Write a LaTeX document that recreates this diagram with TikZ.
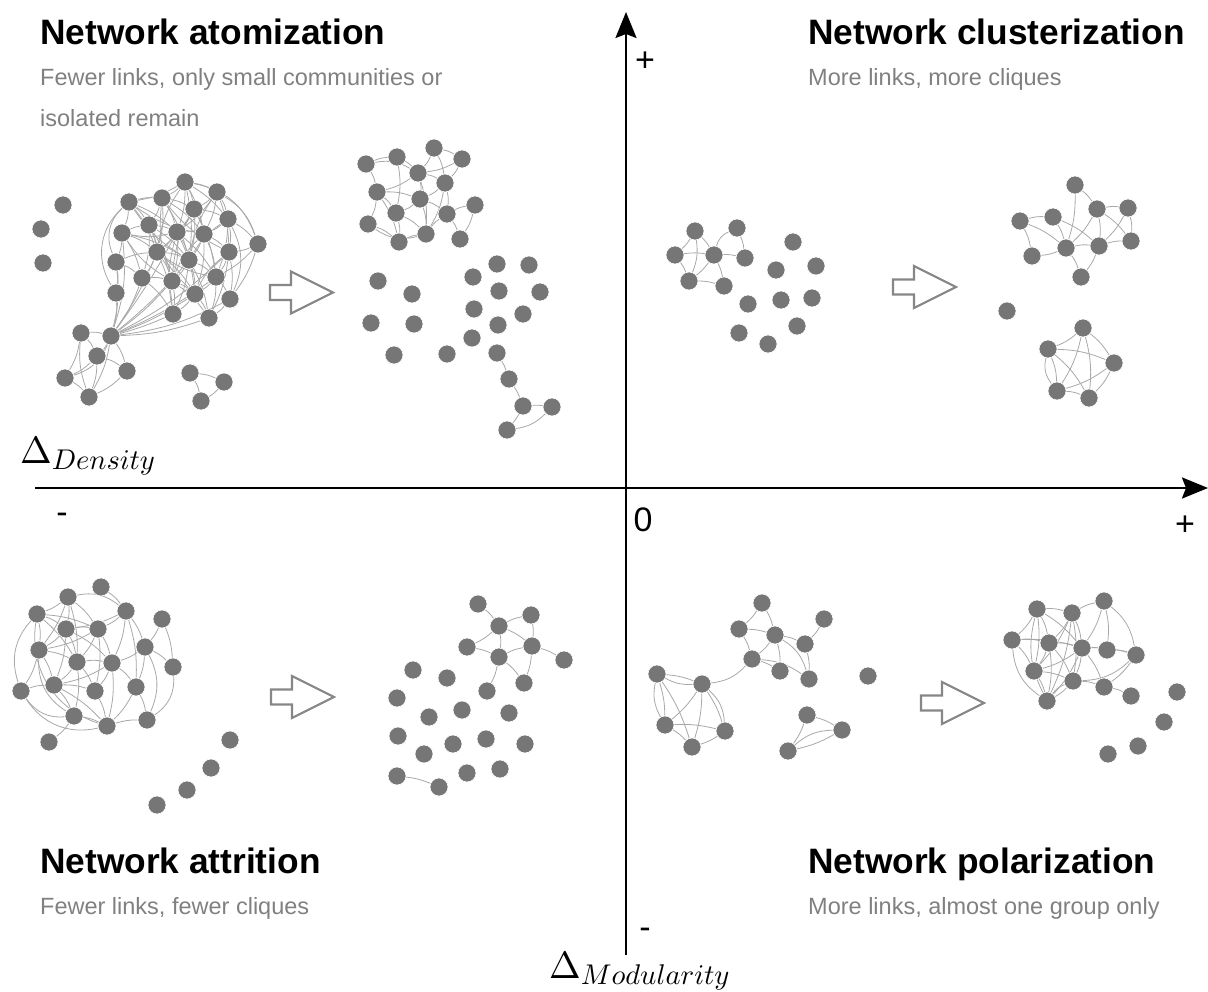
\documentclass[tikz,border=0pt]{standalone}
\usepackage{fontspec}
\setmainfont{Liberation Sans}
\usetikzlibrary{backgrounds,arrows.meta}
\definecolor{nodegray}{RGB}{118,118,118}
\definecolor{edgegray}{RGB}{168,168,168}
\definecolor{txtgray}{RGB}{128,128,128}
\definecolor{arrgray}{RGB}{135,135,135}
\begin{document}
\begin{tikzpicture}[x=1pt,y=-1pt,
 nd/.style={circle,fill=nodegray,draw=white,line width=0.6pt,minimum size=18pt,inner sep=0pt},
 lk/.style={draw=edgegray,line width=0.8pt},
 ttl/.style={anchor=base west,font=\fontsize{35.3}{40}\selectfont\bfseries,inner sep=0pt},
 sub/.style={anchor=base west,font=\fontsize{23.5}{28}\selectfont,text=txtgray,inner sep=0pt},
 axl/.style={font=\fontsize{34}{38}\selectfont,inner sep=0pt},
 mathl/.style={anchor=base west,inner sep=0pt},
 bigarrow/.style={draw=arrgray,line width=2.2pt,fill=white,line join=miter},
 axis/.style={line width=2.6pt,-{Stealth[length=26pt,width=21pt,inset=4pt]}}]

\useasboundingbox (0,0) rectangle (1208,992);

% ---------------- axes ----------------
\coordinate (xl) at (35,488); \coordinate (xr) at (1208,488);
\coordinate (yb) at (626,955); \coordinate (yt) at (626,12);
\draw[axis] (xl) -- (xr);
\draw[axis,line width=2.3pt] (yb) -- (yt);
\node[axl] (ptop) at (645,62) {+};
\node[axl] (zero) at (643,520) {0};
\node[axl] (pright) at (1185,526) {+};
\node[axl] (mleft) at (62,518) {-};
\node[axl] (mbottom) at (645,933) {-};
\node[mathl] (dden) at (20,463) {\scalebox{3.8}{$\Delta$}\raisebox{-6pt}{\scalebox{2.85}{$Density$}}};
\node[mathl] (dmod) at (549,978) {\scalebox{3.8}{$\Delta$}\raisebox{-6pt}{\scalebox{2.85}{$Modularity$}}};

% ---------------- texts ----------------
\node[ttl] (t1) at (40,45) {Network atomization};
\node[sub] (s1a) at (40,86) {Fewer links, only small communities or};
\node[sub] (s1b) at (40,127) {isolated remain};
\node[ttl] (t2) at (808,45) {Network clusterization};
\node[sub] (s2) at (808,86) {More links, more cliques};
\node[ttl] (t3) at (40,873) {Network attrition};
\node[sub] (s3) at (40,914) {Fewer links, fewer cliques};
\node[ttl] (t4) at (808,873) {Network polarization};
\node[sub] (s4) at (808,914) {More links, almost one group only};

% ---------------- hollow arrows ----------------
\foreach \ax/\ay in {270/292.5, 893/287, 271/697, 921/703}
  \draw[bigarrow,shift={(\ax,\ay)}] (0,-7.5) -- (21,-7.5) -- (21,-21) -- (63,0) -- (21,21) -- (21,7.5) -- (0,7.5) -- cycle;

% ---------------- nodes ----------------
\foreach \n/\x/\y in {A1/185/182, A2/217/192, A3/129/202, A4/162/198, A5/194/209, A6/228/219, A7/122/233, A8/149/225, A9/177/232, A10/204/234, A11/258/244, A12/157/252, A13/189/260, A14/229/252, A15/116/262, A16/142/278, A17/172/281, A18/216/277, A19/116/293, A20/195/294, A21/230/299, A22/173/314, A23/209/318,
 Z1/63/205, Z2/41/229, Z3/43/263,
 B1/81/333, B2/111/336, B3/97/356, B4/127/371, B5/65/378, B6/89/397,
 C1/190/373, C2/224/382, C3/201/401,
 D1/366/164, D2/397/157, D3/434/148, D4/462/159, D5/418/173, D6/445/183, D7/377/192, D8/420/199, D9/396/213, D10/447/214, D11/475/205, D12/368/224, D13/399/242, D14/426/234, D15/460/239,
 P1/378/281, P2/412/294, P3/371/323, P4/414/324, P5/394/355, P6/447/354, P7/473/277, P8/497/264, P9/529/265, P10/499/291, P11/540/292, P12/474/309, P13/523/314, P14/498/325, P15/472/338,
 Q1/497/353, Q2/509/379, Q3/523/406, Q4/552/407, Q5/507/430,
 E1/695/231, E2/737/228, E3/675/255, E4/714/255, E5/745/258, E6/793/242, E7/776/270, E8/816/266, E9/689/281, E10/724/286, E11/748/304, E12/781/300, E13/812/298, E14/739/333, E15/797/326, E16/768/344,
 F1/1075/185, F2/1020/221, F3/1053/217, F4/1097/209, F5/1128/208, F6/1066/248, F7/1099/246, F8/1131/241, F9/1032/256, F10/1081/277, F11/1007/311,
 G1/1083/328, G2/1048/349, G3/1114/363, G4/1057/391, G5/1089/398,
 H1/101/587, H2/68/597, H3/37/614, H4/126/611, H5/162/619, H6/66/629, H7/98/629, H8/39/650, H9/145/647, H10/77/662, H11/112/663, H12/173/667, H13/21/691, H14/54/685, H15/95/691, H16/136/687, H17/74/716, H18/107/726, H19/147/720, H20/49/742,
 H21/230/740, H22/211/768, H23/187/790, H24/157/805,
 I1/478/604, I2/531/615, I3/499/626, I4/467/647, I5/532/646, I6/499/657, I7/564/660, I8/413/670, I9/447/678, I10/487/691, I11/524/683, I12/397/698, I13/462/710, I14/429/717, I15/509/713, I16/398/736, I17/453/744, I18/486/739, I19/525/744, I20/424/754, I21/397/776, I22/467/773, I23/500/769, I24/439/787,
 J1/762/603, J2/739/629, J3/775/635, J4/824/619, J5/805/644, J6/752/659, J7/780/671, J8/809/679, J9/868/676,
 K1/657/674, K2/702/684, K3/665/725, K4/725/731, K5/692/747,
 L1/807/715, L2/842/730, L3/788/751,
 M1/1104/601, M2/1037/609, M3/1072/613, M4/1012/640, M5/1049/643, M6/1082/648, M7/1107/650, M8/1136/655, M9/1034/671, M10/1073/681, M11/1104/687, M12/1131/696, M13/1047/701,
 M14/1177/692, M15/1164/722, M16/1138/746, M17/1108/754}
  \node[nd] (\n) at (\x,\y) {};

% ---------------- links ----------------
\begin{pgfonlayer}{background}
% atomization, before
\foreach \a/\b in {A1/A2,A1/A4,A1/A5,A1/A3,A1/A9,A1/A6,A1/A10,A1/A13,A2/A5,A2/A6,A2/A10,A2/A14,A2/A9,
 A3/A4,A3/A7,A3/A8,A3/A9,A3/A12,A4/A5,A4/A8,A4/A9,A4/A12,A4/A13,A4/A10,
 A5/A9,A5/A10,A5/A13,A5/A6,A5/A12,A5/A18,A6/A10,A6/A11,A6/A14,A6/A18,
 A7/A8,A7/A12,A7/A15,A7/A16,A7/A13,A8/A9,A8/A12,A8/A16,A8/A17,A8/A13,
 A9/A10,A9/A12,A9/A13,A9/A17,A9/A18,A9/A20,A10/A13,A10/A14,A10/A18,A10/A20,
 A11/A14,A11/A18,A11/A21,A12/A13,A12/A16,A12/A17,A12/A20,A12/A22,
 A13/A17,A13/A18,A13/A20,A13/A22,A13/A23,A14/A18,A14/A21,A14/A23,
 A15/A16,A15/A19,A15/A12,A16/A17,A16/A22,A17/A20,A17/A22,A17/A23,
 A18/A21,A18/A23,A18/A20,A20/A23,A20/A22,A21/A23}
  \draw[lk] (\a) to[bend left=9] (\b);
\foreach \a/\b in {A1/A12,A2/A13,A3/A13,A4/A17,A5/A17,A6/A13,A7/A17,A8/A20,A9/A22,A10/A17,A14/A20,A12/A18,A4/A14,A3/A10,A7/A9}
  \draw[lk] (\a) to[bend right=12] (\b);
\draw[lk] (A3) to[bend right=35] (A15);
\draw[lk] (A3) to[bend right=40] (A19);
\draw[lk] (A1) to[bend left=30] (A11);
\draw[lk] (A2) to[bend left=20] (A11);
\draw[lk] (A6) to[bend left=25] (A21);
\foreach \b/\bb in {A15/10,A16/8,A17/6,A19/10,A22/4,A20/6,A23/8,A12/6,A13/5,A9/4,A18/6,A21/10,A7/12,A14/8}
  \draw[lk] (B2) to[bend right=\bb] (\b);
\foreach \a/\b in {B1/B2,B1/B3,B1/B5,B2/B3,B2/B4,B3/B5,B3/B6,B3/B4,B5/B6,B4/B6,B2/B6,C1/C2,C1/C3,C2/C3}
  \draw[lk] (\a) to[bend left=10] (\b);
\draw[lk] (B1) to[bend right=12] (B6);
\draw[lk] (B2) to[bend left=25] (B5);
% atomization, after
\foreach \a/\b in {D1/D2,D1/D7,D2/D5,D2/D9,D3/D5,D3/D4,D3/D6,D4/D6,D4/D5,D5/D6,D5/D7,D5/D8,D5/D14,D6/D8,D6/D10,D6/D14,
 D7/D8,D7/D9,D7/D12,D7/D13,D8/D9,D8/D14,D8/D10,D9/D13,D9/D14,D12/D13,D13/D14,D14/D10,D10/D11,D10/D15,D11/D15}
  \draw[lk] (\a) to[bend left=10] (\b);
\draw[lk] (D1) to[bend left=20] (D5);
\draw[lk] (D12) to[bend right=25] (D14);
\foreach \a/\b in {Q1/Q2,Q2/Q3,Q3/Q4,Q3/Q5}
  \draw[lk] (\a) to[bend left=6] (\b);
\draw[lk] (Q5) to[bend right=18] (Q4);
% clusterization, before
\foreach \a/\b in {E1/E3,E1/E4,E3/E4,E3/E9,E4/E9,E2/E5,E4/E5,E4/E10,E9/E10}
  \draw[lk] (\a) to[bend left=8] (\b);
\draw[lk] (E1) to[bend left=15] (E9);
\draw[lk] (E4) to[bend left=25] (E2);
% clusterization, after
\foreach \a/\b in {F1/F4,F1/F6,F2/F3,F2/F9,F2/F6,F3/F6,F3/F7,F4/F5,F4/F6,F4/F7,F5/F8,F5/F7,F6/F7,F7/F8,F6/F9,F6/F10,F7/F10,F4/F8}
  \draw[lk] (\a) to[bend left=9] (\b);
\foreach \a/\b in {G1/G2,G1/G3,G1/G4,G1/G5,G2/G3,G2/G4,G2/G5,G3/G4,G3/G5,G4/G5}
  \draw[lk] (\a) to[bend left=10] (\b);
\draw[lk] (G2) to[bend right=25] (G4);
% attrition, before
\foreach \a/\b in {H1/H4,H2/H3,H2/H6,H2/H7,H2/H8,H2/H10,H3/H6,H3/H8,H3/H7,H3/H10,H4/H7,H4/H9,H4/H6,H4/H11,H5/H9,H5/H12,
 H6/H7,H6/H8,H6/H10,H6/H11,H6/H14,H7/H10,H7/H11,H7/H8,H7/H15,H8/H10,H8/H14,H8/H13,H9/H12,H9/H11,H9/H16,
 H10/H11,H10/H14,H10/H15,H10/H17,H11/H15,H11/H16,H11/H14,H13/H14,H14/H15,H14/H17,H14/H18,H15/H18,H16/H18,
 H16/H19,H17/H18,H17/H20,H18/H19,H11/H18,H4/H16}
  \draw[lk] (\a) to[bend left=9] (\b);
\draw[lk] (H2) to[bend left=25] (H4);
\draw[lk] (H3) to[bend right=30] (H13);
\draw[lk] (H9) to[bend left=25] (H19);
\draw[lk] (H13) to[bend right=30] (H17);
\draw[lk] (H13) to[bend right=35] (H18);
\draw[lk] (H12) to[bend left=30] (H19);
\draw[lk] (H3) to[bend right=40] (H18);
\draw[lk] (H8) to[bend right=30] (H17);
% attrition, after
\foreach \a/\b in {I1/I3,I3/I2,I3/I4,I3/I6,I3/I5,I2/I5,I4/I6,I6/I5,I5/I7,I5/I11,I6/I11,I6/I10,I21/I24}
  \draw[lk] (\a) to[bend left=8] (\b);
% polarization, before
\foreach \a/\b in {J1/J2,J1/J3,J2/J3,J2/J6,J3/J6,J3/J5,J3/J7,J4/J5,J5/J8,J6/J7,
 K1/K2,K1/K3,K1/K5,K2/K3,K2/K4,K2/K5,K3/K4,K3/K5,K4/K5,L1/L2,L1/L3,L2/L3}
  \draw[lk] (\a) to[bend left=8] (\b);
\draw[lk] (J3) to[bend left=20] (J8);
\draw[lk] (J6) to[bend left=15] (J8);
\draw[lk] (J6) to[bend left=20] (K2);
\draw[lk] (K1) to[bend right=15] (K2);
\draw[lk] (K1) to[bend right=20] (K3);
\draw[lk] (K2) to[bend left=22] (K4);
\draw[lk] (L3) to[bend left=20] (L2);
% polarization, after
\foreach \a/\b in {M2/M3,M2/M4,M2/M5,M2/M9,M2/M6,M3/M1,M3/M5,M3/M6,M3/M9,M3/M10,M1/M6,M1/M7,M4/M5,M4/M9,M4/M6,
 M5/M6,M5/M9,M5/M10,M5/M13,M6/M7,M6/M8,M6/M9,M6/M10,M6/M11,M6/M13,M7/M8,M8/M11,M9/M10,M9/M13,M10/M13,M10/M11,M11/M12,M3/M13}
  \draw[lk] (\a) to[bend left=9] (\b);
\draw[lk] (M1) to[bend left=20] (M8);
\draw[lk] (M4) to[bend right=25] (M13);
\draw[lk] (M8) to[bend left=20] (M10);
\draw[lk] (M10) to[bend right=15] (M13);
\draw[lk] (M2) to[bend right=20] (M13);
\end{pgfonlayer}
\end{tikzpicture}
\end{document}
